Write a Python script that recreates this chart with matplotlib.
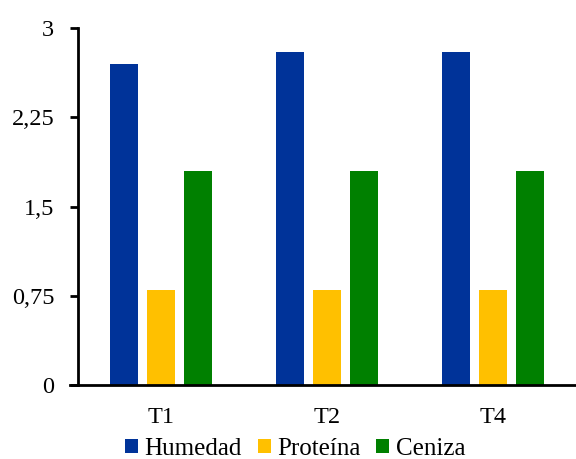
import matplotlib
matplotlib.use("Agg")
import matplotlib.pyplot as plt
import numpy as np
from matplotlib.ticker import FixedLocator, FixedFormatter

categories = ["T1", "T2", "T4"]
humedad = [2.7, 2.8, 2.8]
proteina = [0.8, 0.8, 0.8]
ceniza = [1.8, 1.8, 1.8]
series_names = ["Humedad", "Proteína", "Ceniza"]
colors = ["#003399", "#FFC000", "#008000"]
yticks = [0, 0.75, 1.5, 2.25, 3]
ytick_labels = ["0", "0,75", "1,5", "2,25", "3"]

FS = 17.5
plt.rcParams["font.family"] = ["Liberation Serif", "DejaVu Serif"]
plt.rcParams["font.size"] = FS

fig = plt.figure(figsize=(5.76, 4.59), dpi=100)
ax = fig.add_axes([0.1354, 0.1612, 0.8646, 0.7778])

x = np.arange(len(categories))
width = 0.168
offset = 0.2226
handles = []
for i, (vals, name, c) in enumerate(zip([humedad, proteina, ceniza], series_names, colors)):
    h = ax.bar(x + (i - 1) * offset, vals, width, color=c, label=name, zorder=2)
    handles.append(h)

ax.set_xlim(-0.5, len(categories) - 0.5)
ax.set_ylim(0, 3)
ax.yaxis.set_major_locator(FixedLocator(yticks))
ax.yaxis.set_major_formatter(FixedFormatter(ytick_labels))
ax.set_xticks(x)
ax.set_xticklabels(categories)

for s in ["top", "right"]:
    ax.spines[s].set_visible(False)
ax.spines["left"].set_linewidth(2)
ax.spines["bottom"].set_linewidth(2)
ax.spines["bottom"].set_bounds(-0.55, len(categories) - 0.5)
ax.tick_params(axis="y", direction="out", length=6, width=2, pad=11, labelsize=FS)
ax.tick_params(axis="x", length=0, pad=16, labelsize=FS)

fig.legend(handles=handles, labels=series_names, loc="center", bbox_to_anchor=(0.512, 0.022),
           ncol=3, frameon=False, handlelength=0.52, handleheight=0.52,
           handletextpad=0.25, columnspacing=0.65, fontsize=18, borderaxespad=0)

fig.savefig("out.png", dpi=100)
